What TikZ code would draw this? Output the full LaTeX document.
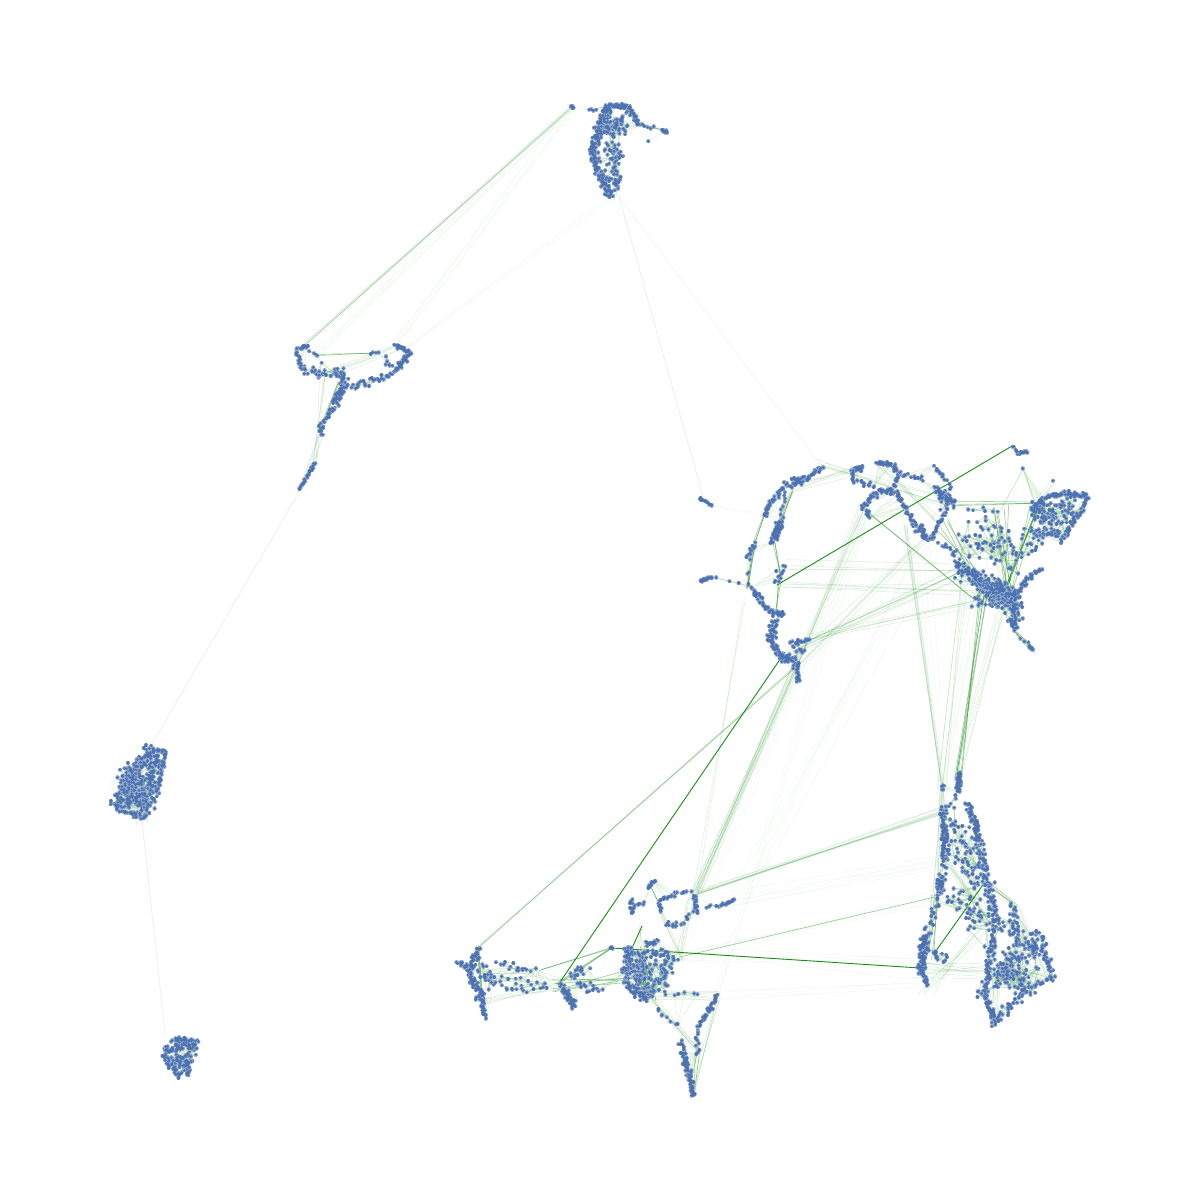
\documentclass[tikz,border=0pt]{standalone}
\usetikzlibrary{positioning}
\definecolor{dotblue}{HTML}{4C72B0}
\definecolor{edgegreen}{HTML}{008000}
\tikzset{
	gdot/.style={draw=dotblue,line cap=round,line width=3.2pt},
	gdothalo/.style={draw=dotblue!60,line cap=round,line width=4.3pt},
	meshedge/.style={draw=edgegreen,opacity=0.25,line width=0.6pt},
	webedge/.style={draw=edgegreen,opacity=0.1,line width=0.6pt},
	darkedge/.style={draw=edgegreen,opacity=0.9,line width=0.9pt},
	midedge/.style={draw=edgegreen,opacity=0.38,line width=0.65pt},
	softedge/.style={draw=edgegreen,opacity=0.12,line width=0.6pt},
	faintedge/.style={draw=edgegreen,opacity=0.04,line width=0.6pt}
}
\newif\iflinkpass
\def\xprev{0}\def\yprev{0}\def\xsecond{0}\def\ysecond{0}\def\xthird{0}\def\ythird{0}
\newcommand{\ridge}[6]{%
	\gdef\dotpath{}\gdef\linkpath{}\gdef\webpath{}%
	\xdef\xanchor{\xprev}\xdef\yanchor{\yprev}%
	\pgfmathtruncatemacro{\dotcount}{#5>1 ? 2*#5 : 1}%
	\pgfmathsetmacro{\spreadby}{(#6*1.7+1.1)*0.7}%
	\foreach \i in {1,...,\dotcount}{%
		\pgfmathsetmacro{\tpos}{(\i-1+rnd)/\dotcount}%
		\pgfmathsetmacro{\xpos}{#1+(#3-#1)*\tpos+\spreadby*(rand+rand)}%
		\pgfmathsetmacro{\ypos}{#2+(#4-#2)*\tpos+\spreadby*(rand+rand)}%
		\xdef\dotpath{\dotpath (\xpos,\ypos)--++(0.01,0)}%
		\ifnum\i>1 \xdef\linkpath{\linkpath (\xpos,\ypos)--(\xprev,\yprev)}\fi
		\ifnum\i>3 \xdef\linkpath{\linkpath (\xpos,\ypos)--(\xthird,\ythird)}\fi
		\pgfmathtruncatemacro{\nearanchor}{(mod(\i,2)==0)&&(veclen(\xpos-\xanchor,\ypos-\yanchor)<40)}%
		\ifnum\nearanchor=1 \xdef\webpath{\webpath (\xpos,\ypos)--(\xanchor,\yanchor)}\fi
		\global\let\xthird\xsecond\global\let\ythird\ysecond
		\global\let\xsecond\xprev\global\let\ysecond\yprev
		\global\let\xprev\xpos\global\let\yprev\ypos
	}%
	\iflinkpass
		\ifnum#5>1 \draw[meshedge] \linkpath;\fi
		\draw[webedge] \webpath;
	\else
		\draw[gdothalo] \dotpath;
		\draw[gdot] \dotpath;
	\fi
}
\newcommand{\bundle}[5]{%
	\foreach \i in {1,...,#3}{%
		\pgfmathsetmacro{\ax}{#4*rand}%
		\pgfmathsetmacro{\ay}{#4*rand}%
		\pgfmathsetmacro{\bx}{#4*rand}%
		\pgfmathsetmacro{\by}{#4*rand}%
		\draw[#5] ([shift={(\ax,\ay)}]#1) -- ([shift={(\bx,\by)}]#2);
	}%
}
\newcommand{\allridges}{%
	\ridge{610}{105}{600}{127}{40}{1.6}
	\ridge{600}{127}{592}{152}{25}{1.6}
	\ridge{592}{152}{600}{175}{20}{1.2}
	\ridge{600}{175}{610}{197}{20}{1.6}
	\ridge{610}{105}{628}{107}{16}{0.8}
	\ridge{628}{107}{640}{125}{12}{0.8}
	\ridge{603}{125}{625}{130}{20}{5}
	\ridge{605}{150}{620}{150}{8}{3}
	\ridge{618}{145}{617}{190}{10}{1.6}
	\ridge{600}{130}{625}{118}{12}{4}
	\ridge{598}{160}{618}{165}{6}{3}
	\ridge{605}{175}{618}{185}{8}{3}
	\ridge{640}{124}{654}{128}{3}{0.4}
	\ridge{661}{130}{667}{132}{6}{0}
	\ridge{571}{106}{574}{108}{4}{0}
	\ridge{589}{110}{597}{110}{2}{0}
	\ridge{648}{141}{648}{141}{1}{0}
	\ridge{297}{349}{308}{346}{8}{0.5}
	\ridge{295}{350}{303}{368}{8}{0.5}
	\ridge{303}{368}{322}{375}{9}{1.2}
	\ridge{322}{375}{345}{372}{6}{1.6}
	\ridge{340}{372}{343}{385}{14}{1.6}
	\ridge{345}{385}{335}{405}{20}{1.2}
	\ridge{335}{405}{320}{430}{7}{0.8}
	\ridge{320}{425}{322}{437}{3}{0.8}
	\ridge{315}{463}{299}{490}{14}{0}
	\ridge{395}{345}{410}{353}{12}{0.5}
	\ridge{410}{353}{395}{372}{16}{0.8}
	\ridge{395}{372}{377}{380}{6}{0.8}
	\ridge{377}{380}{350}{388}{8}{1.6}
	\ridge{310}{352}{318}{356}{2}{0}
	\ridge{370}{353}{380}{353}{2}{0}
	\ridge{385}{360}{392}{368}{3}{2}
	\ridge{310}{365}{345}{380}{5}{3}
	\ridge{150}{750}{115}{805}{60}{3}
	\ridge{160}{755}{140}{815}{60}{3.5}
	\ridge{135}{765}{125}{810}{40}{3.5}
	\ridge{125}{775}{150}{800}{40}{6}
	\ridge{113}{807}{145}{818}{15}{0.6}
	\ridge{150}{748}{165}{752}{8}{0.6}
	\ridge{165}{752}{157}{795}{16}{0.6}
	\ridge{163}{1050}{180}{1078}{20}{1.6}
	\ridge{172}{1040}{195}{1042}{16}{1}
	\ridge{195}{1042}{185}{1078}{16}{1.6}
	\ridge{165}{1050}{195}{1045}{20}{2}
	\ridge{175}{1060}{188}{1065}{20}{3}
	\ridge{457}{962}{472}{970}{9}{0.8}
	\ridge{478}{947}{470}{975}{20}{1.2}
	\ridge{470}{975}{482}{1000}{20}{1.6}
	\ridge{482}{1000}{485}{1016}{12}{0.6}
	\ridge{480}{967}{497}{985}{10}{3.5}
	\ridge{497}{962}{535}{973}{8}{1.2}
	\ridge{497}{985}{552}{988}{8}{2}
	\ridge{490}{975}{540}{985}{5}{5}
	\ridge{610}{947}{613}{949}{2}{0}
	\ridge{622}{949}{632}{948}{2}{0}
	\ridge{562}{986}{575}{1006}{25}{1.2}
	\ridge{570}{975}{585}{970}{8}{2}
	\ridge{575}{985}{600}{988}{8}{2}
	\ridge{632}{950}{625}{975}{20}{2}
	\ridge{645}{945}{660}{940}{6}{0.8}
	\ridge{640}{950}{672}{957}{14}{2.5}
	\ridge{628}{965}{650}{995}{25}{3.5}
	\ridge{625}{985}{648}{998}{18}{1.6}
	\ridge{672}{957}{650}{995}{18}{3}
	\ridge{640}{960}{640}{990}{14}{4}
	\ridge{640}{965}{665}{970}{8}{3.5}
	\ridge{630}{960}{665}{990}{15}{6}
	\ridge{718}{995}{703}{1020}{16}{0.5}
	\ridge{703}{1020}{697}{1030}{3}{0.4}
	\ridge{697}{1030}{697}{1055}{5}{1.6}
	\ridge{683}{1050}{690}{1078}{22}{0.8}
	\ridge{690}{1075}{693}{1096}{14}{0.5}
	\ridge{650}{1005}{682}{1027}{4}{1.6}
	\ridge{665}{995}{700}{993}{3}{0.4}
	\ridge{680}{1040}{685}{1050}{3}{0.8}
	\ridge{632}{900}{632}{912}{6}{0.5}
	\ridge{634}{905}{645}{903}{3}{0}
	\ridge{648}{888}{655}{880}{7}{0}
	\ridge{658}{902}{677}{893}{7}{0.5}
	\ridge{677}{893}{692}{892}{3}{0.4}
	\ridge{695}{897}{697}{912}{9}{0.8}
	\ridge{695}{912}{680}{925}{3}{0.4}
	\ridge{680}{925}{665}{925}{5}{0.8}
	\ridge{658}{905}{662}{910}{3}{0.4}
	\ridge{705}{907}{722}{905}{3}{0}
	\ridge{722}{905}{735}{900}{8}{0.2}
	\ridge{959}{772}{958}{792}{16}{0.5}
	\ridge{942}{785}{945}{790}{3}{0.4}
	\ridge{943}{810}{945}{860}{35}{1.2}
	\ridge{958}{792}{943}{812}{4}{0.8}
	\ridge{945}{860}{940}{890}{9}{1.6}
	\ridge{940}{880}{940}{893}{18}{0.8}
	\ridge{940}{890}{925}{940}{12}{1.2}
	\ridge{925}{935}{921}{970}{35}{1.6}
	\ridge{921}{970}{927}{985}{12}{0.5}
	\ridge{968}{803}{980}{845}{28}{1.2}
	\ridge{980}{845}{988}{885}{20}{1.6}
	\ridge{988}{885}{998}{925}{25}{2.5}
	\ridge{995}{925}{990}{960}{16}{1.6}
	\ridge{950}{815}{975}{860}{14}{4.5}
	\ridge{950}{850}{985}{890}{14}{4.5}
	\ridge{945}{900}{990}{915}{12}{3.5}
	\ridge{955}{830}{975}{880}{8}{6}
	\ridge{965}{890}{985}{940}{12}{7}
	\ridge{990}{960}{985}{995}{18}{0.8}
	\ridge{985}{995}{995}{1023}{18}{0.8}
	\ridge{995}{1023}{1030}{985}{18}{1.6}
	\ridge{1000}{970}{1030}{985}{30}{6}
	\ridge{985}{990}{1030}{960}{16}{5}
	\ridge{1030}{987}{1052}{978}{6}{0.8}
	\ridge{1052}{978}{1040}{935}{18}{1.6}
	\ridge{1040}{933}{1028}{932}{3}{0.4}
	\ridge{1013}{903}{1018}{945}{16}{1.6}
	\ridge{1018}{945}{1000}{975}{16}{4}
	\ridge{1000}{920}{1040}{960}{18}{5}
	\ridge{1033}{947}{1033}{947}{10}{2}
	\ridge{925}{950}{945}{960}{10}{2}
	\ridge{1012}{446}{1020}{455}{3}{0}
	\ridge{1020}{453}{1028}{452}{6}{0}
	\ridge{1024}{469}{1024}{469}{1}{0}
	\ridge{1033}{510}{1045}{500}{26}{1.2}
	\ridge{1045}{498}{1065}{493}{12}{0.5}
	\ridge{1065}{493}{1087}{497}{16}{0.8}
	\ridge{1087}{497}{1083}{508}{6}{0.4}
	\ridge{1083}{508}{1070}{527}{8}{0.8}
	\ridge{1070}{527}{1060}{543}{6}{0.5}
	\ridge{1040}{535}{1060}{535}{12}{1.6}
	\ridge{1035}{510}{1075}{515}{18}{4}
	\ridge{1045}{520}{1070}{500}{18}{4}
	\ridge{1040}{515}{1060}{530}{12}{3.5}
	\ridge{1025}{535}{1045}{530}{8}{3}
	\ridge{1054}{482}{1054}{482}{1}{0}
	\ridge{957}{565}{985}{585}{40}{2.2}
	\ridge{985}{585}{1015}{600}{80}{4.5}
	\ridge{965}{575}{1020}{615}{30}{6}
	\ridge{1012}{600}{1015}{630}{25}{1.6}
	\ridge{1040}{568}{1018}{590}{16}{1.2}
	\ridge{975}{600}{1005}{600}{12}{3}
	\ridge{1015}{630}{1030}{645}{2}{0.8}
	\ridge{1029}{645}{1033}{651}{4}{0}
	\ridge{960}{540}{1010}{560}{22}{8}
	\ridge{980}{520}{1010}{545}{10}{6}
	\ridge{1020}{555}{1040}{540}{8}{4}
	\ridge{823}{467}{815}{470}{8}{0}
	\ridge{823}{468}{805}{480}{8}{0.5}
	\ridge{805}{480}{787}{485}{16}{1.6}
	\ridge{787}{485}{770}{503}{10}{0.5}
	\ridge{770}{503}{765}{516}{10}{0.8}
	\ridge{787}{490}{780}{525}{5}{0.8}
	\ridge{780}{522}{773}{540}{30}{1.2}
	\ridge{755}{543}{748}{558}{6}{0.5}
	\ridge{749}{560}{748}{585}{2}{0}
	\ridge{752}{588}{770}{613}{18}{0.8}
	\ridge{770}{612}{785}{615}{12}{0.8}
	\ridge{775}{620}{772}{640}{12}{1.6}
	\ridge{767}{635}{780}{655}{16}{0.8}
	\ridge{780}{655}{797}{663}{20}{1.6}
	\ridge{797}{663}{798}{683}{10}{0.5}
	\ridge{790}{645}{810}{640}{10}{0.8}
	\ridge{805}{648}{795}{655}{3}{0.8}
	\ridge{699}{498}{712}{506}{7}{0}
	\ridge{700}{581}{712}{577}{10}{0}
	\ridge{712}{577}{755}{587}{2}{0}
	\ridge{775}{585}{783}{565}{6}{1.6}
	\ridge{853}{470}{862}{468}{10}{0.5}
	\ridge{853}{470}{853}{483}{5}{0}
	\ridge{858}{478}{875}{488}{5}{0.8}
	\ridge{876}{463}{893}{465}{12}{0.5}
	\ridge{893}{465}{900}{475}{8}{0.8}
	\ridge{900}{475}{893}{488}{6}{0.8}
	\ridge{878}{490}{895}{492}{14}{0.8}
	\ridge{878}{492}{863}{507}{10}{0.8}
	\ridge{863}{507}{870}{517}{6}{0.5}
	\ridge{895}{490}{915}{525}{16}{0.5}
	\ridge{915}{525}{930}{540}{20}{1.6}
	\ridge{930}{540}{945}{512}{12}{0.5}
	\ridge{945}{512}{948}{485}{10}{1.6}
	\ridge{948}{482}{932}{464}{6}{0.5}
	\ridge{900}{473}{925}{480}{6}{0.8}
	\ridge{935}{490}{955}{505}{20}{1.6}
	\ridge{963}{508}{1003}{512}{3}{0.8}
	\ridge{940}{543}{957}{555}{6}{0.8}
}
\begin{document}
\begin{tikzpicture}[x=1pt,y=-1pt]
	\useasboundingbox (0,0) rectangle (1200,1200);
	\foreach \hubname/\hubx/\huby in {topL/572/107,topI/590/110,topJ/612/105,topR/612/197,topB/618/195,topE/640/124,topF/666/131,topG/648/141,
		ltrA/302/347,ltrB/395/345,ltrC/405/350,ltrD/300/490,ltrE/313/355,ltrF/370/353,ltrG/322/375,ltrH/340/385,ltrK/320/430,ltrM/315/463,
		blobTop/150/748,blobBot/142/820,blobA/118/790,blobB/160/770,lowTop/165/1037,hook/702/497,hookE/713/506,hookF/765/515,arcTop/822/467,arcR/853/470,arcS/790/490,
		arcU/755/543,arcV/748/588,arcW/773/540,arcX/780/580,arcY/777/612,
		starTop/478/947,starA/470/975,starB/482/1000,bridgeA/535/972,bridgeB/552/988,loopE/695/893,loopF/690/905,loopG/735/900,
		midHub/612/948,midGap/540/970,midBlob/558/985,coreP/640/950,coreR/680/957,coreS/625/975,coreT/650/995,branchA/718/997,branchB/697/1050,branchC/692/1090,
		loopH/642/926,loopJ/633/946,loopK/660/905,loopM/650/885,
		ribL/920/968,ribT/945/810,ribU/942/790,ribN/958/778,ribM/935/897,ribK/985/882,ribJ/933/955,ribP/945/860,ribQ/990/920,ribR/995/1020,ribS/1050/978,ribV/1015/905,ribW/1000/970,ribX/925/985,
		neckA/797/665,neckB/785/652,neckC/810/640,neckD/745/600,innerA/777/585,innerB/787/565,farTop/1012/446,farSide/1024/469,
		coreA/985/590,coreB/1005/600,coreC/965/570,coreD/972/598,coreE/990/530,coreF/1033/650,coreG/1015/630,coreH/1000/512,ringA/865/510,ringB/905/525,ringC/940/520,ringD/920/542,ringE/955/505,
		fanA/1035/505,fanB/1085/500,fanC/1060/543,fanD/1054/482,topArc/880/465}{
		\coordinate (\hubname) at (\hubx,\huby);
	}

	\pgfmathsetseed{11}
	\bundle{innerA}{farTop}{1}{0}{darkedge}
	\bundle{midHub}{ribL}{1}{0}{darkedge}
	\bundle{midBlob}{neckB}{1}{0}{darkedge}
	\bundle{ribJ}{ribK}{1}{0}{darkedge}
	\bundle{loopH}{loopJ}{1}{0}{darkedge}
	\bundle{ringA}{coreD}{2}{0.5}{midedge}
	\bundle{neckC}{coreC}{1}{0}{midedge}
	\bundle{midGap}{midHub}{2}{1}{midedge}
	\bundle{coreR}{ribM}{1}{0}{midedge}
	\bundle{starTop}{neckA}{6}{1.2}{softedge}
	\bundle{ringB}{ribU}{6}{2}{softedge}
	\bundle{loopE}{neckA}{7}{4}{softedge}
	\bundle{loopF}{neckA}{4}{4}{softedge}
	\bundle{loopE}{ribT}{10}{4}{softedge}
	\bundle{topL}{ltrA}{6}{1.5}{softedge}
	\bundle{topL}{ltrE}{5}{4}{faintedge}
	\bundle{topL}{ltrB}{5}{5}{faintedge}
	\bundle{topR}{ltrC}{3}{3}{faintedge}
	\bundle{topB}{hook}{1}{1}{softedge}
	\bundle{topB}{arcTop}{2}{1}{faintedge}
	\bundle{ltrD}{blobTop}{3}{1}{faintedge}
	\bundle{blobBot}{lowTop}{3}{1}{faintedge}
	\bundle{coreA}{ribN}{6}{5}{midedge}
	\bundle{coreB}{ribN}{5}{5}{softedge}
	\bundle{coreC}{ribU}{5}{6}{softedge}
	\bundle{coreE}{ribT}{3}{8}{faintedge}
	\bundle{neckD}{loopE}{2}{2}{softedge}
	\bundle{ringA}{loopE}{3}{10}{softedge}
	\bundle{ringC}{loopG}{6}{12}{faintedge}
	\bundle{ringA}{coreR}{6}{10}{faintedge}
	\bundle{innerB}{coreC}{4}{6}{softedge}
	\bundle{innerA}{coreA}{5}{6}{softedge}
	\bundle{neckC}{coreB}{5}{6}{softedge}
	\bundle{neckA}{ringA}{5}{8}{softedge}
	\bundle{neckA}{ringD}{5}{8}{softedge}
	\bundle{neckB}{coreC}{6}{7}{softedge}
	\bundle{coreR}{ribM}{5}{8}{faintedge}
	\bundle{coreR}{ribL}{5}{14}{faintedge}
	\bundle{loopF}{ribP}{6}{10}{faintedge}
	\bundle{branchA}{ringA}{3}{8}{faintedge}
	\bundle{branchA}{ribX}{3}{6}{faintedge}
	\bundle{ringD}{ribU}{5}{10}{faintedge}
	\bundle{coreD}{ribT}{5}{8}{faintedge}
	\bundle{hookF}{hookE}{2}{2}{faintedge}
	\bundle{arcR}{arcS}{6}{6}{softedge}
	\bundle{arcTop}{ringE}{6}{8}{softedge}
	\bundle{topArc}{ringC}{5}{6}{softedge}
	\bundle{ringE}{fanA}{3}{4}{midedge}
	\bundle{ringC}{coreA}{5}{8}{midedge}
	\bundle{coreH}{coreB}{6}{10}{midedge}
	\bundle{coreE}{coreB}{6}{10}{softedge}
	\bundle{fanA}{coreB}{8}{6}{midedge}
	\bundle{fanB}{fanC}{5}{5}{softedge}
	\bundle{fanD}{fanA}{4}{3}{softedge}
	\bundle{farSide}{fanA}{3}{2}{softedge}
	\bundle{farSide}{coreE}{2}{2}{softedge}
	\bundle{coreG}{coreF}{3}{3}{midedge}
	\bundle{hookF}{arcU}{3}{2}{midedge}
	\bundle{arcU}{arcV}{4}{2}{midedge}
	\bundle{arcW}{arcX}{3}{2}{midedge}
	\bundle{arcX}{arcY}{3}{2}{midedge}
	\bundle{arcS}{arcW}{4}{4}{midedge}
	\bundle{ribU}{ribM}{6}{3}{softedge}
	\bundle{ribP}{ribQ}{8}{6}{softedge}
	\bundle{ribQ}{ribR}{8}{7}{softedge}
	\bundle{ribV}{ribS}{6}{5}{softedge}
	\bundle{ribW}{ribS}{8}{8}{softedge}
	\bundle{ribL}{ribW}{10}{10}{softedge}
	\bundle{ribX}{ribQ}{6}{10}{softedge}
	\bundle{ribM}{ribQ}{6}{6}{softedge}
	\bundle{ribM}{ribJ}{5}{5}{midedge}
	\bundle{ribK}{ribV}{3}{3}{midedge}
	\bundle{starA}{bridgeA}{8}{8}{softedge}
	\bundle{starB}{bridgeB}{5}{6}{softedge}
	\bundle{starTop}{starB}{4}{2}{midedge}
	\bundle{bridgeA}{midBlob}{6}{6}{softedge}
	\bundle{midBlob}{coreS}{6}{8}{midedge}
	\bundle{midBlob}{midHub}{3}{2}{midedge}
	\bundle{coreP}{coreT}{10}{10}{midedge}
	\bundle{coreR}{coreS}{10}{8}{softedge}
	\bundle{coreT}{branchA}{8}{6}{softedge}
	\bundle{coreT}{branchB}{8}{5}{softedge}
	\bundle{branchA}{branchC}{5}{3}{softedge}
	\bundle{branchB}{branchC}{3}{3}{midedge}
	\bundle{coreP}{loopH}{4}{4}{softedge}
	\bundle{loopK}{coreR}{4}{5}{softedge}
	\bundle{loopF}{coreR}{5}{4}{softedge}
	\bundle{loopM}{loopK}{2}{1}{midedge}
	\bundle{topJ}{topR}{8}{6}{softedge}
	\bundle{topI}{topJ}{1}{0}{midedge}
	\bundle{topE}{topF}{2}{0.5}{midedge}
	\bundle{topF}{topG}{1}{0}{softedge}
	\bundle{ltrE}{ltrF}{2}{1}{midedge}
	\bundle{ltrG}{ltrM}{4}{3}{softedge}
	\bundle{ltrH}{ltrK}{3}{3}{midedge}
	\bundle{ltrK}{ltrD}{3}{4}{softedge}
	\bundle{ltrG}{ltrB}{6}{6}{softedge}
	\bundle{blobA}{blobB}{12}{8}{softedge}
	\bundle{blobTop}{blobBot}{10}{7}{softedge}

	\pgfmathsetseed{7}
	\linkpasstrue
	\allridges
	\pgfmathsetseed{7}
	\linkpassfalse
	\allridges
\end{tikzpicture}
\end{document}
